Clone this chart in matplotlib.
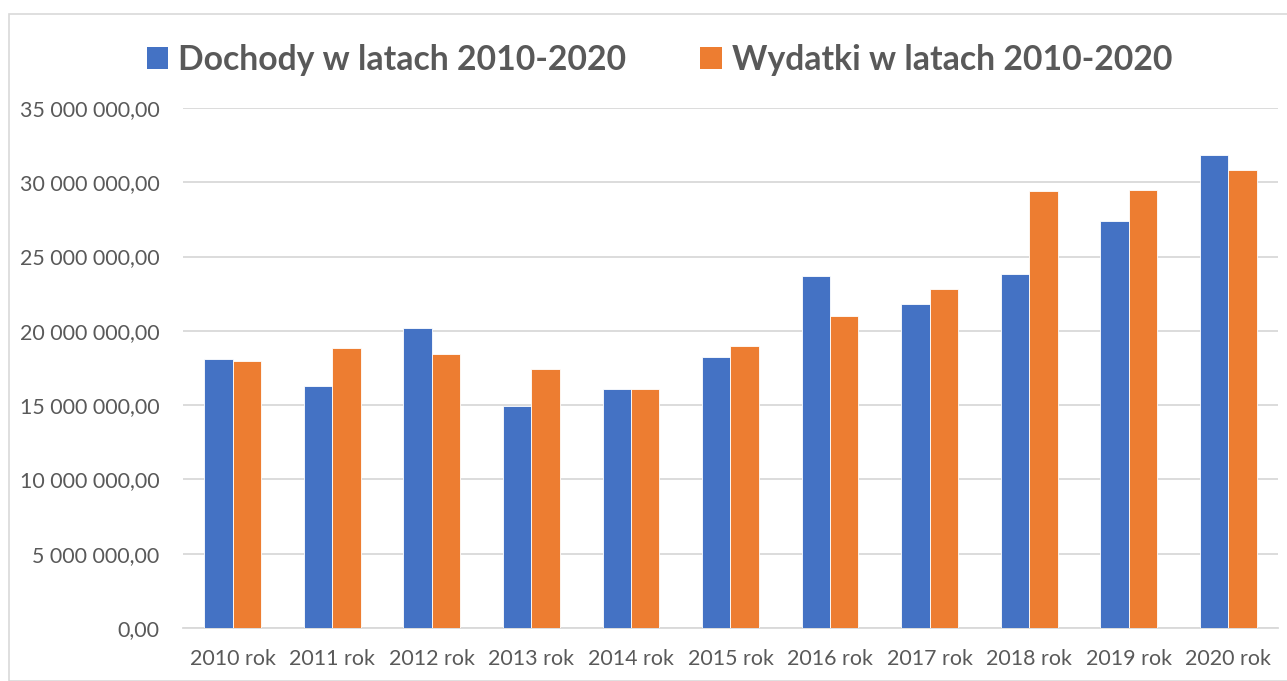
import matplotlib

matplotlib.use("Agg")
import matplotlib.pyplot as plt
import numpy as np
from matplotlib.patches import Patch, Rectangle
from matplotlib.ticker import FuncFormatter, MultipleLocator

# values (PLN)
years = ["2010 rok", "2011 rok", "2012 rok", "2013 rok", "2014 rok", "2015 rok",
         "2016 rok", "2017 rok", "2018 rok", "2019 rok", "2020 rok"]
dochody = [18.11e6, 16.27e6, 20.17e6, 14.97e6, 16.11e6, 18.27e6,
           23.67e6, 21.79e6, 23.85e6, 27.39e6, 31.81e6]
wydatki = [18.00e6, 18.83e6, 18.43e6, 17.42e6, 16.11e6, 18.98e6,
           21.02e6, 22.80e6, 29.43e6, 29.48e6, 30.82e6]
series_labels = ["Dochody w latach 2010-2020", "Wydatki w latach 2010-2020"]

BLUE = "#4472C4"
ORANGE = "#ED7D31"
GREY_TXT = "#595959"
GRID = "#D9D9D9"

plt.rcParams["font.family"] = ["Lato", "DejaVu Sans"]

W, H = 1287, 681
fig = plt.figure(figsize=(W / 100, H / 100), dpi=100)

# chart frame (cut off on the right and bottom in the reference)
fig.patches.append(Rectangle((9 / W, 0), 1.5, 1 - 14 / H, transform=fig.transFigure,
                             fill=False, edgecolor=GRID, linewidth=1.2, zorder=0))

ax = fig.add_axes([183 / W, (H - 628) / H, (1278 - 183) / W, (628 - 108) / H])

x = np.arange(len(years))
bw = 1 / 3.5  # excel gap width 150 %
ax.bar(x - bw / 2, dochody, bw, color=BLUE, edgecolor="white", linewidth=0.6, zorder=3)
ax.bar(x + bw / 2, wydatki, bw, color=ORANGE, edgecolor="white", linewidth=0.6, zorder=3)

ax.set_xlim(-0.5, len(years) - 0.5)
ax.set_ylim(0, 35e6)
ax.yaxis.set_major_locator(MultipleLocator(5e6))


def pl_fmt(v, _pos):
    s = f"{v:,.2f}".replace(",", " ").replace(".", ",")
    return s


ax.yaxis.set_major_formatter(FuncFormatter(pl_fmt))
ax.set_xticks(x)
ax.set_xticklabels(years)

ax.grid(axis="y", color=GRID, linewidth=1.3, zorder=0)
for side in ["top", "right", "left"]:
    ax.spines[side].set_visible(False)
ax.spines["bottom"].set_color(GRID)
ax.spines["bottom"].set_linewidth(1.3)
ax.tick_params(axis="both", length=0, labelcolor=GREY_TXT, labelsize=15.4)
ax.tick_params(axis="y", pad=17)
ax.tick_params(axis="x", pad=15)

handles = [Patch(facecolor=BLUE), Patch(facecolor=ORANGE)]
fig.legend(handles, series_labels, loc="center", bbox_to_anchor=(659.5 / W, 1 - 60 / H),
           ncol=2, frameon=False, prop={"weight": "bold", "size": 24.3},
           labelcolor=GREY_TXT, handlelength=0.63, handleheight=0.63,
           handletextpad=0.3, columnspacing=2.2)

fig.savefig("out.png", dpi=100)
